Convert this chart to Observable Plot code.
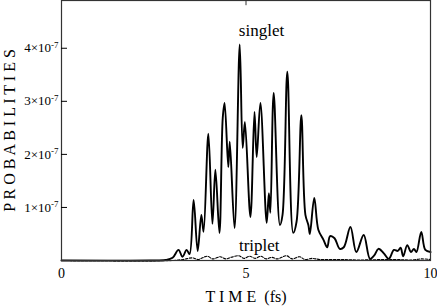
<!DOCTYPE html>
<html><head><meta charset="utf-8">
<script src="https://cdn.jsdelivr.net/npm/d3@7"></script>
<script src="https://cdn.jsdelivr.net/npm/@observablehq/plot@0.6"></script>
<style>
body{margin:0;background:#fff}
svg, svg text{font-family:"Liberation Serif",serif !important}
</style>
</head><body><div id="chart"></div>
<script>
// time in fs, probabilities in units of 1e-7
const time = [0, 2.41, 2.82, 3.01, 3.17, 3.28, 3.39, 3.47, 3.58, 3.69, 3.79, 3.85, 3.98, 4.09, 4.17, 4.28, 4.37, 4.42, 4.52, 4.56, 4.69, 4.83, 4.91, 4.97, 5.12, 5.23, 5.29, 5.39, 5.56, 5.62, 5.66, 5.75, 5.92, 5.99, 6.12, 6.28, 6.37, 6.50, 6.61, 6.69, 6.73, 6.85, 6.96, 7.10, 7.20, 7.28, 7.40, 7.54, 7.65, 7.83, 7.99, 8.19, 8.36, 8.48, 8.59, 8.73, 8.87, 9.01, 9.11, 9.19, 9.26, 9.37, 9.47, 9.55, 9.62, 9.75, 9.86, 10.0];
const singlet = [0, 0, 0.01, 0.05, 0.20, 0.07, 0.20, 0.12, 1.14, 0.18, 0.86, 0.54, 2.39, 0.69, 1.71, 0.52, 2.69, 2.97, 1.76, 2.24, 0.61, 4.07, 2.12, 2.61, 0.82, 2.80, 1.95, 2.97, 0.71, 1.27, 0.90, 3.16, 0.67, 0.86, 3.56, 0.52, 0.73, 2.74, 0.86, 0.67, 0.50, 1.18, 0.58, 0.39, 0.25, 0.46, 0.42, 0.22, 0.25, 0.63, 0.16, 0.48, 0.03, 0.10, 0.22, 0.14, 0.03, 0.20, 0.18, 0.24, 0.08, 0.29, 0.16, 0.22, 0.16, 0.54, 0.20, 0.16];
const tripletTime = [0, 3.0, 3.3, 3.55, 3.7, 3.95, 4.1, 4.3, 4.45, 4.6, 4.8, 4.95, 5.1, 5.25, 5.4, 5.55, 5.7, 5.85, 6.1, 6.25, 6.45, 6.6, 6.8, 7.0, 7.5, 8.0, 9.0, 9.5, 9.75, 10.0];
const triplet = [0, 0, 0.02, 0.05, 0.02, 0.08, 0.03, 0.07, 0.03, 0.06, 0.09, 0.04, 0.08, 0.04, 0.08, 0.03, 0.06, 0.03, 0.09, 0.03, 0.07, 0.02, 0.04, 0.02, 0.02, 0.01, 0.02, 0.01, 0.03, 0.02];
const yTicks = [1, 2, 3, 4];
const xTicks = [0, 5, 10];
const topTicks = [5];
const labelText = ["singlet", "triplet"];
const labelX = [5.42, 5.36];
const labelY = [4.34, 0.28];

const yMax = 4.9;
const singletData = time.map((t, i) => ({t, v: singlet[i]}));
const tripletData = tripletTime.map((t, i) => ({t, v: triplet[i]}));
const labels = labelText.map((s, i) => ({s, x: labelX[i], y: labelY[i]}));
const serif = "Liberation Serif, serif";

const chart = Plot.plot({
  width: 437,
  height: 307,
  marginLeft: 61,
  marginRight: 7,
  marginTop: 0,
  marginBottom: 47,
  style: {fontFamily: serif, fontSize: "13px", background: "#fff", color: "#000"},
  x: {domain: [0, 10]},
  y: {domain: [0, yMax]},
  marks: [
    Plot.line(tripletData, {x: "t", y: "v", stroke: "#000", strokeWidth: 1.1, strokeDasharray: "2.5,1.5", curve: "catmull-rom"}),
    Plot.line(singletData, {x: "t", y: "v", stroke: "#000", strokeWidth: 1.9, curve: "catmull-rom"}),
    Plot.frame({stroke: "#333", strokeWidth: 1.2}),
    Plot.axisY({ticks: yTicks, tickSize: -6, tickPadding: 9, tickFormat: d => `${d}×10^-7`, fontFamily: serif, fontSize: 13,
      label: "P R O B A B I L I T I E S", labelAnchor: "center", labelArrow: "none", labelOffset: 58}),
    Plot.axisX({ticks: xTicks, tickSize: 0, tickPadding: 8, tickFormat: d => `${d}`, fontFamily: serif, fontSize: 14,
      label: "T I M E  (fs)", labelAnchor: "center", labelArrow: "none", labelOffset: 41}),
    Plot.ruleX(topTicks, {y1: yMax, y2: yMax * 0.98, stroke: "#333", strokeWidth: 1}),
    Plot.text(labels, {x: "x", y: "y", text: "s", fontSize: 17, fill: "#000", fontFamily: serif})
  ]
});
document.getElementById("chart").appendChild(chart);

// superscript exponent in y tick labels
d3.select(chart).selectAll('g[aria-label="y-axis tick label"] text').each(function() {
  const t = d3.select(this);
  const [base, exp] = t.text().split("^");
  t.text(null);
  t.append("tspan").text(base);
  t.append("tspan").attr("dy", "-0.5em").attr("font-size", "9px").text(exp);
});
d3.select(chart).selectAll('g[aria-label="y-axis label"] text, g[aria-label="x-axis label"] text')
  .attr("font-size", "16px");
</script>
</body></html>
